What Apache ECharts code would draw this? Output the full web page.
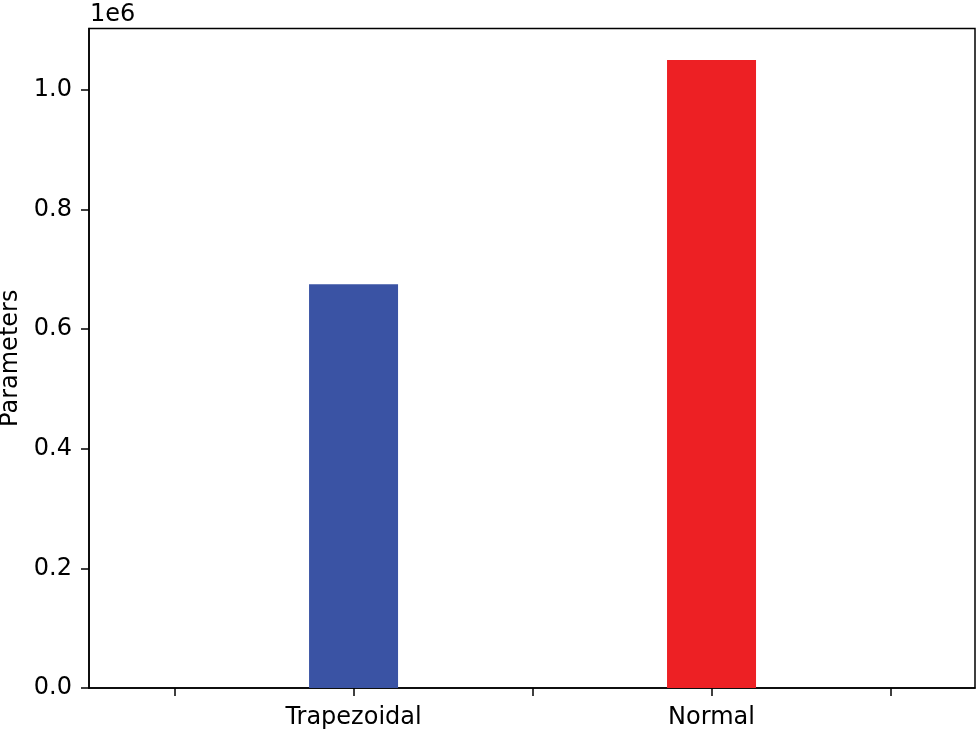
<!DOCTYPE html>
<html>
<head>
<meta charset="utf-8">
<script src="https://cdn.jsdelivr.net/npm/echarts@6/dist/echarts.min.js"></script>
<style>
html,body{margin:0;padding:0;background:#fff;}
#chart{width:980px;height:733px;}
</style>
</head>
<body>
<div id="chart"></div>
<script>
const categories = ['Trapezoidal', 'Normal'];
const positions = [0, 1];
const values = [675000, 1050000];
const barColors = ['#3a53a4', '#ed2024'];
const yTicks = [0, 200000, 400000, 600000, 800000, 1000000];
const xTicks = [-0.5, 0, 0.5, 1, 1.5];

const FONT = 'DejaVu Sans';
const chart = echarts.init(document.getElementById('chart'), null, {renderer: 'canvas'});
chart.setOption({
  animation: false,
  backgroundColor: '#ffffff',
  grid: {left: 89, right: 5, top: 28.5, bottom: 45, show: true, borderColor: '#000', borderWidth: 1.5,
         backgroundColor: 'transparent', containLabel: false, outerBoundsMode: 'none'},
  graphic: [{
    type: 'text', left: 90, top: 3,
    style: {text: '1e6', font: '24px "DejaVu Sans"', fill: '#000'}
  }],
  xAxis: {
    type: 'value', min: -0.739, max: 1.736,
    splitLine: {show: false},
    axisLine: {show: true, onZero: false, lineStyle: {color: '#000', width: 1.5}},
    axisTick: {show: true, customValues: xTicks, length: 8, lineStyle: {color: '#000', width: 1.5}},
    axisLabel: {
      customValues: positions,
      formatter: v => { const i = positions.indexOf(Math.round(v)); return i >= 0 ? categories[i] : ''; },
      color: '#000', fontFamily: FONT, fontSize: 24, margin: 18
    }
  },
  yAxis: {
    type: 'value', min: 0, max: 1102500,
    name: 'Parameters', nameLocation: 'middle', nameRotate: 90, nameGap: 66,
    nameTextStyle: {color: '#000', fontFamily: FONT, fontSize: 24},
    splitLine: {show: false},
    axisLine: {show: true, onZero: false, lineStyle: {color: '#000', width: 1.5}},
    axisTick: {show: true, customValues: yTicks, length: 8, lineStyle: {color: '#000', width: 1.5}},
    axisLabel: {
      customValues: yTicks,
      formatter: v => (v / 1e6).toFixed(1),
      color: '#000', fontFamily: FONT, fontSize: 24, margin: 17
    }
  },
  series: [{
    type: 'bar',
    barWidth: 89,
    data: positions.map((p, i) => ({value: [p, values[i]], itemStyle: {color: barColors[i]}}))
  }]
});
</script>
</body>
</html>
